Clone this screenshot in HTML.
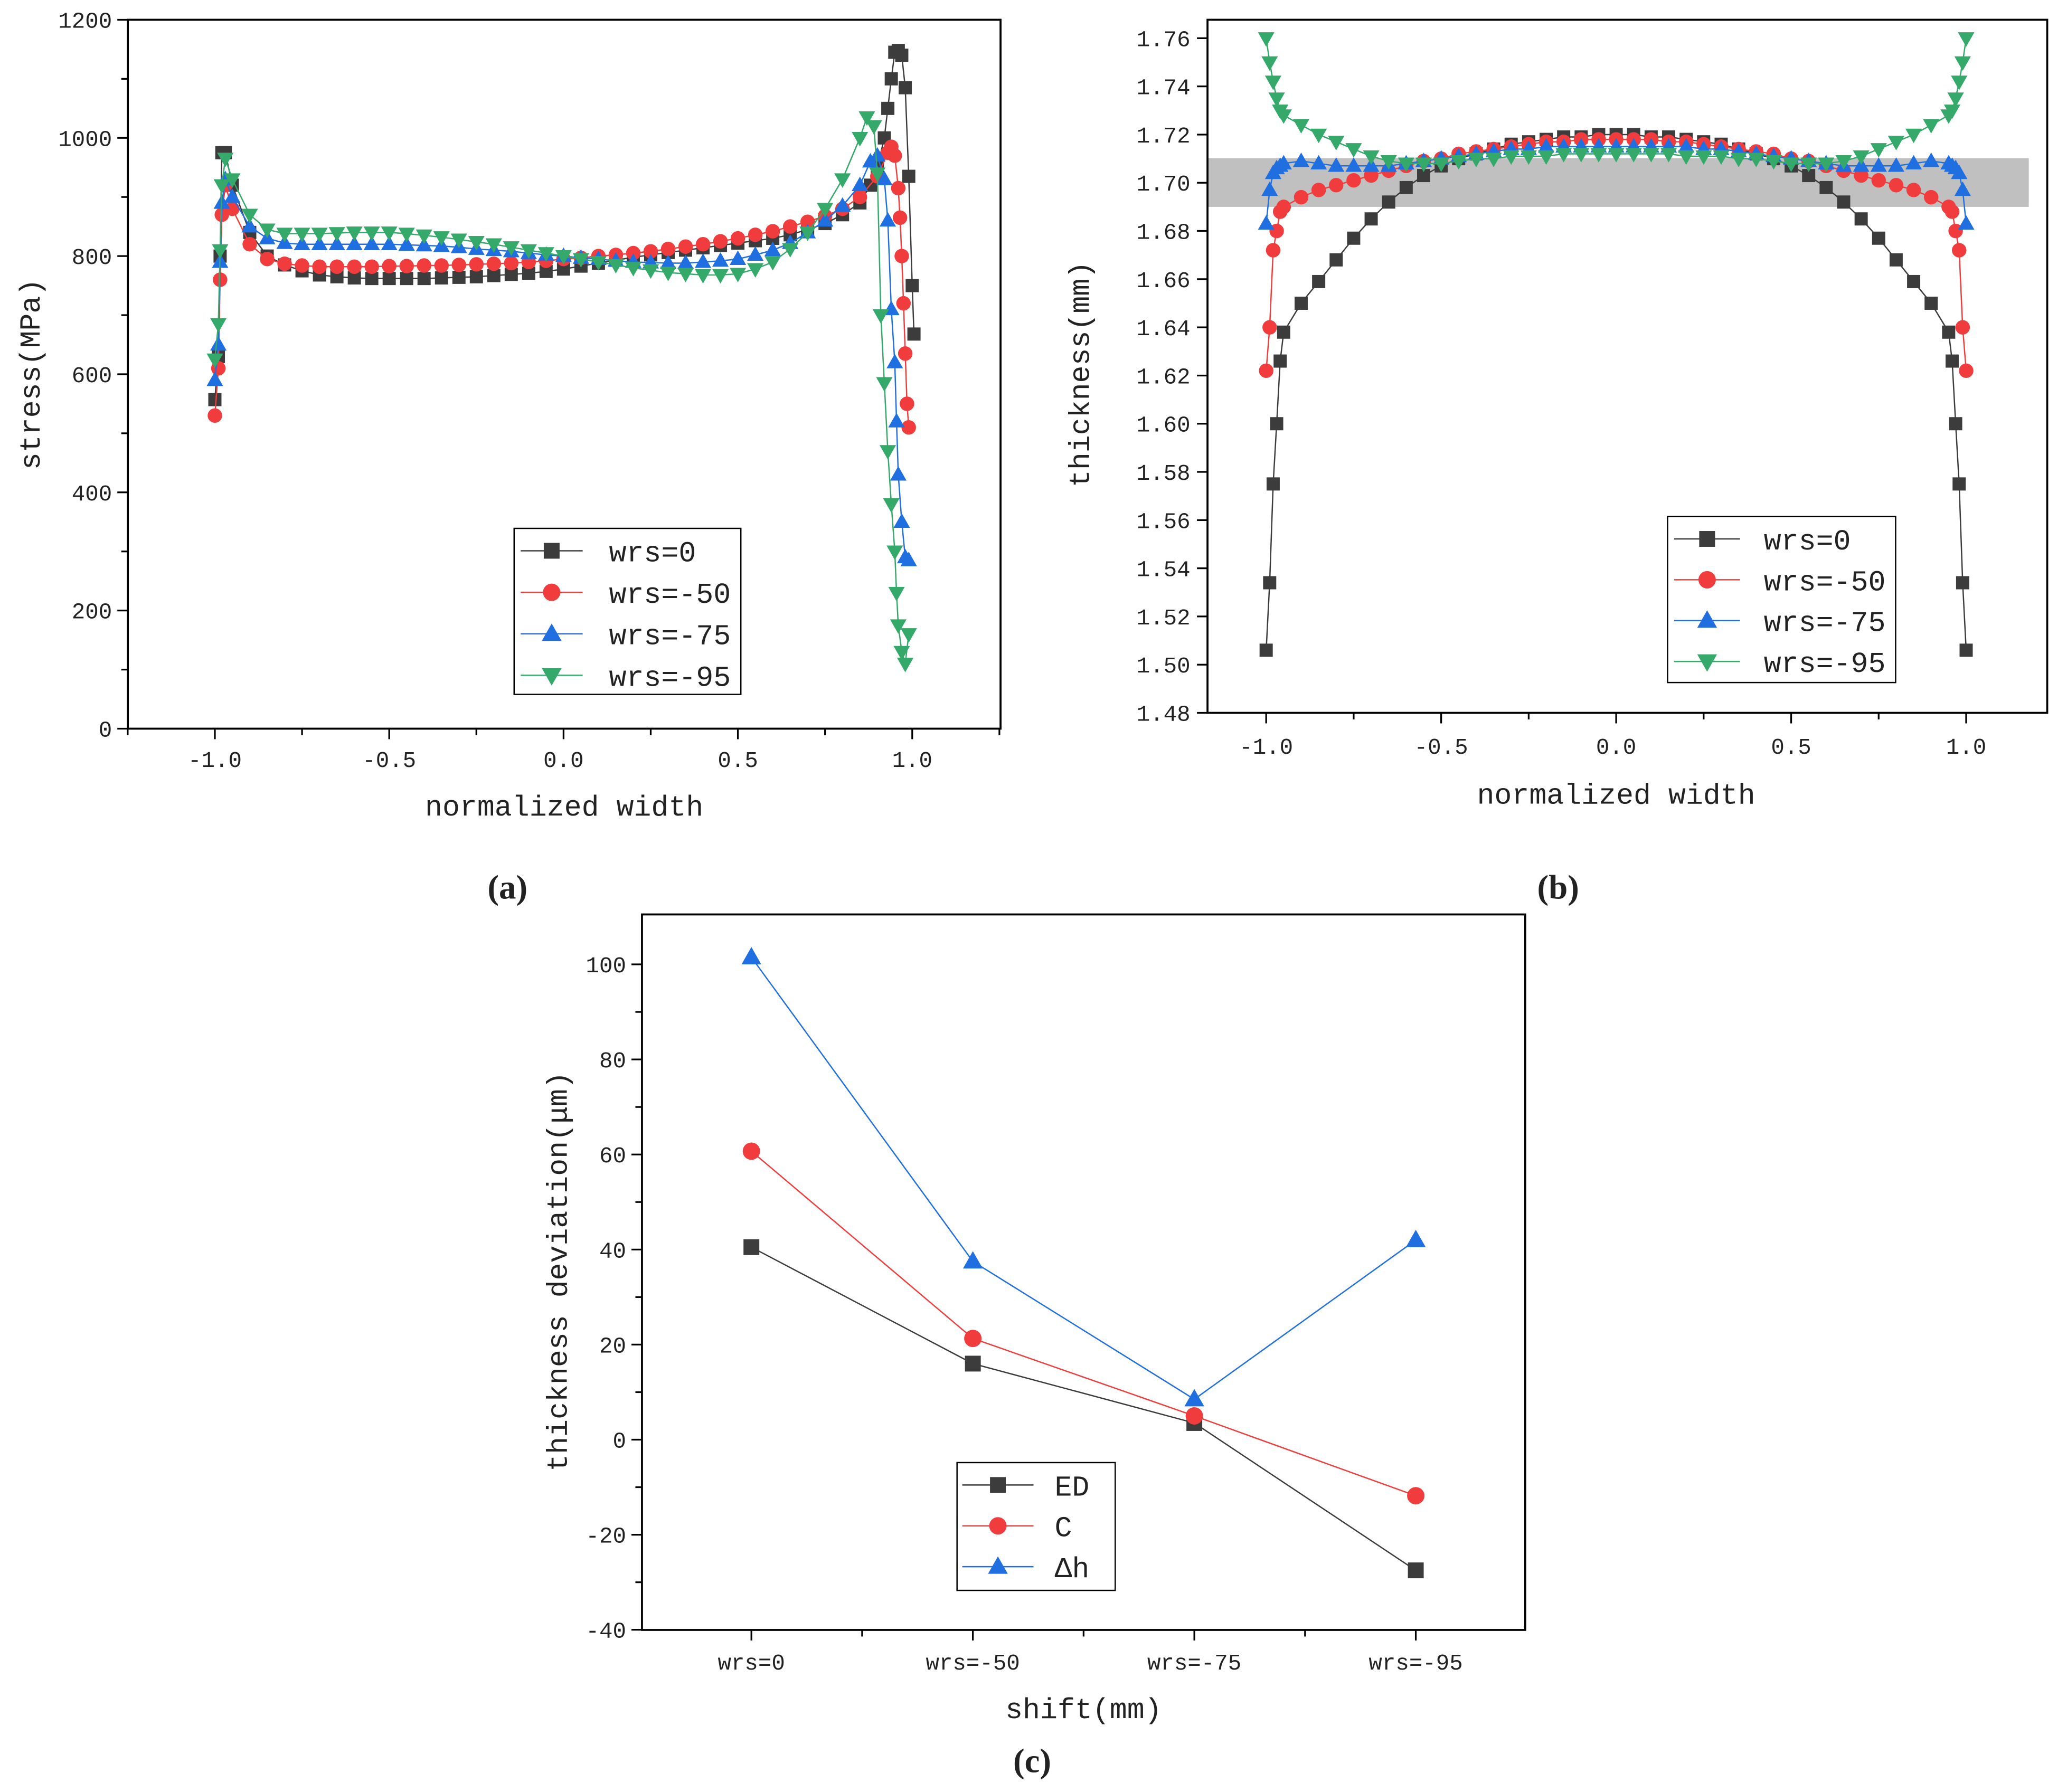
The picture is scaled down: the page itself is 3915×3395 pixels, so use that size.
<!DOCTYPE html>
<html><head><meta charset="utf-8"><style>
html,body{margin:0;padding:0;background:#fff}
svg{display:block}
text{font-family:"Liberation Mono","Noto Sans CJK SC",monospace;fill:#222}
.pl{font-family:"Liberation Serif",serif;font-weight:bold;font-size:26px}
</style></head><body>
<svg id="fig" width="3915" height="3395" viewBox="0 0 1568 1360" preserveAspectRatio="none" xmlns="http://www.w3.org/2000/svg"></svg>
<script>
// ---------- panel (a) data ----------
const aX0=[-1,-0.99,-0.985,-0.98,-0.97,-0.95,-0.9,-0.85,-0.8,-0.75,-0.7,-0.65,-0.6,-0.55,-0.5,-0.45,-0.4,-0.35,-0.3,-0.25,-0.2,-0.15,-0.1,-0.05,0,0.05,0.1,0.15,0.2,0.25,0.3,0.35,0.4,0.45,0.5,0.55,0.6,0.65,0.7,0.75,0.8,0.85,0.88,0.9,0.92,0.93,0.94,0.95,0.96,0.97,0.98,0.99,1.0,1.005];
const aY0=[557,630,800,975,975,920,840,800,785,775,768,765,763,762,762,762,762,763,764,765,767,769,771,774,778,783,788,793,798,802,806,810,814,818,822,826,830,836,845,855,870,890,920,950,1000,1050,1100,1145,1148,1140,1085,935,750,668];
const aX50=[-1,-0.99,-0.985,-0.98,-0.97,-0.95,-0.9,-0.85,-0.8,-0.75,-0.7,-0.65,-0.6,-0.55,-0.5,-0.45,-0.4,-0.35,-0.3,-0.25,-0.2,-0.15,-0.1,-0.05,0,0.05,0.1,0.15,0.2,0.25,0.3,0.35,0.4,0.45,0.5,0.55,0.6,0.65,0.7,0.75,0.8,0.85,0.9,0.93,0.94,0.95,0.96,0.965,0.97,0.975,0.98,0.985,0.99];
const aY50=[530,610,760,870,920,880,820,795,787,784,782,782,782,782,783,783,784,784,785,786,787,788,790,792,795,797,800,802,805,808,812,816,820,825,830,836,842,850,858,868,880,900,935,975,985,970,915,865,800,720,635,550,510];
const aX75=[-1,-0.99,-0.985,-0.98,-0.97,-0.95,-0.9,-0.85,-0.8,-0.75,-0.7,-0.65,-0.6,-0.55,-0.5,-0.45,-0.4,-0.35,-0.3,-0.25,-0.2,-0.15,-0.1,-0.05,0,0.05,0.1,0.15,0.2,0.25,0.3,0.35,0.4,0.45,0.5,0.55,0.6,0.65,0.7,0.75,0.8,0.85,0.88,0.9,0.92,0.93,0.94,0.95,0.955,0.96,0.97,0.98,0.99];
const aY75=[590,650,790,890,930,900,850,830,822,820,820,820,820,820,820,819,818,817,815,812,810,808,805,802,800,797,795,792,790,789,788,788,790,792,795,802,810,822,840,860,885,920,960,970,930,860,710,620,520,430,350,290,285];
const aX95=[-1,-0.99,-0.985,-0.98,-0.97,-0.95,-0.9,-0.85,-0.8,-0.75,-0.7,-0.65,-0.6,-0.55,-0.5,-0.45,-0.4,-0.35,-0.3,-0.25,-0.2,-0.15,-0.1,-0.05,0,0.05,0.1,0.15,0.2,0.25,0.3,0.35,0.4,0.45,0.5,0.55,0.6,0.65,0.7,0.75,0.8,0.85,0.87,0.89,0.9,0.91,0.92,0.93,0.94,0.95,0.955,0.96,0.97,0.98,0.99];
const aY95=[625,685,810,920,965,930,870,845,838,838,838,839,840,840,840,838,835,832,828,824,820,815,810,805,800,795,790,785,780,776,772,770,768,768,770,778,790,812,840,880,930,1000,1035,1020,940,700,585,470,380,300,230,175,130,110,160];
// ---------- panel (b) data ----------
const bX=[-1,-0.99,-0.98,-0.97,-0.96,-0.95,-0.9,-0.85,-0.8,-0.75,-0.7,-0.65,-0.6,-0.55,-0.5,-0.45,-0.4,-0.35,-0.3,-0.25,-0.2,-0.15,-0.1,-0.05,0,0.05,0.1,0.15,0.2,0.25,0.3,0.35,0.4,0.45,0.5,0.55,0.6,0.65,0.7,0.75,0.8,0.85,0.9,0.95,0.96,0.97,0.98,0.99,1];
const bY0=[1.506,1.534,1.575,1.600,1.626,1.638,1.650,1.659,1.668,1.677,1.685,1.692,1.698,1.703,1.707,1.710,1.712,1.714,1.716,1.717,1.718,1.719,1.719,1.720,1.720,1.720,1.719,1.719,1.718,1.717,1.716,1.714,1.712,1.710,1.707,1.703,1.698,1.692,1.685,1.677,1.668,1.659,1.650,1.638,1.626,1.600,1.575,1.534,1.506];
const bY50=[1.622,1.640,1.672,1.680,1.688,1.690,1.694,1.697,1.699,1.701,1.703,1.705,1.707,1.709,1.710,1.712,1.713,1.714,1.715,1.716,1.717,1.717,1.718,1.718,1.718,1.718,1.718,1.717,1.717,1.716,1.715,1.714,1.713,1.712,1.710,1.709,1.707,1.705,1.703,1.701,1.699,1.697,1.694,1.690,1.688,1.680,1.672,1.640,1.622];
const bY75=[1.683,1.697,1.704,1.706,1.707,1.708,1.709,1.708,1.707,1.707,1.707,1.707,1.708,1.709,1.710,1.711,1.712,1.713,1.714,1.714,1.715,1.715,1.715,1.715,1.715,1.715,1.715,1.715,1.715,1.714,1.714,1.713,1.712,1.711,1.710,1.709,1.708,1.707,1.707,1.707,1.707,1.708,1.709,1.708,1.707,1.706,1.704,1.697,1.683];
const bY95=[1.760,1.750,1.742,1.735,1.730,1.728,1.724,1.720,1.717,1.714,1.711,1.709,1.708,1.708,1.708,1.709,1.710,1.710,1.711,1.711,1.711,1.712,1.712,1.712,1.712,1.712,1.712,1.712,1.711,1.711,1.711,1.710,1.710,1.709,1.708,1.708,1.708,1.709,1.711,1.714,1.717,1.720,1.724,1.728,1.730,1.735,1.742,1.750,1.760];
// ---------- panel (c) data ----------
const cCats=["wrs=0","wrs=-50","wrs=-75","wrs=-95"];
const cED=[40.5,16,3.5,-27.5];
const cC=[60.7,21.3,5,-11.8];
const cDh=[101.5,37.5,8.5,42];
const aXTicks=["-1.0","-0.5","0.0","0.5","1.0"];
const aYTicks=["0","200","400","600","800","1000","1200"];
const bYTicks=["1.48","1.50","1.52","1.54","1.56","1.58","1.60","1.62","1.64","1.66","1.68","1.70","1.72","1.74","1.76"];
const cYTicks=["-40","-20","0","20","40","60","80","100"];

const NS="http://www.w3.org/2000/svg";
const svg=document.getElementById('fig');
function mk(tag,attrs,parent){const e=document.createElementNS(NS,tag);for(const k in attrs)e.setAttribute(k,attrs[k]);(parent||svg).appendChild(e);return e;}
const COL={g:'#3c3c3c',r:'#f03c3c',b:'#1f6fe0',gr:'#35a96a'};
function marker(shape,x,y,c,s,p){
  let e;
  if(shape==='sq')e=mk('rect',{x:x-s,y:y-s,width:2*s,height:2*s,fill:c},p);
  else if(shape==='ci')e=mk('circle',{cx:x,cy:y,r:s*1.1,fill:c},p);
  else if(shape==='up')e=mk('polygon',{points:`${x},${y-s*1.3} ${x-s*1.25},${y+s*0.9} ${x+s*1.25},${y+s*0.9}`,fill:c},p);
  else e=mk('polygon',{points:`${x},${y+s*1.3} ${x-s*1.25},${y-s*0.9} ${x+s*1.25},${y-s*0.9}`,fill:c},p);
  
  
  return e;
}
function series(name,xs,ys,fx,fy,c,shape,s){
  const g=mk('g',{});
  
  
  const pts=xs.map((v,i)=>fx(v)+','+fy(ys[i])).join(' ');
  mk('polyline',{points:pts,fill:'none',stroke:c,'stroke-width':1},g);
  xs.forEach((v,i)=>marker(shape,fx(v),fy(ys[i]),c,s,g));
}
function legend(name,x,y,w,h,entries,lx1,lx2,tx,step){
  const g=mk('g',{});
  
  
  mk('rect',{x:x,y:y,width:w,height:h,fill:'#fff',stroke:'#000','stroke-width':1},g);
  entries.forEach((en,i)=>{
    const yy=y+17+i*step;
    const eg=mk('g',{},g);
    
    
    mk('line',{x1:lx1,x2:lx2,y1:yy,y2:yy,stroke:en[1],'stroke-width':1},eg);
    marker(en[2],(lx1+lx2)/2,yy,en[1],6,eg);
    const t=mk('text',{x:tx,y:yy+8,'font-size':22},eg);t.textContent=en[0];
  });
}
function txt(name,s,x,y,size,anchor,extra){
  const t=mk('text',Object.assign({x:x,y:y,'font-size':size,'text-anchor':anchor||'middle'},extra||{}));
  t.textContent=s;
  
  
  return t;
}
function line(x1,y1,x2,y2){mk('line',{x1,y1,x2,y2,stroke:'#000','stroke-width':1.3});}

// ===== Panel A =====
const ax=v=>427.5+v*264.5, ay=v=>553-v*0.44833;
mk('rect',{x:97,y:15,width:662,height:538,fill:'none',stroke:'#000','stroke-width':1.5});
aXTicks.forEach(t=>{const v=parseFloat(t);line(ax(v),553,ax(v),561);txt('x-tick-label',t,ax(v),582,17);});
[-1.25,-0.75,-0.25,0.25,0.75,1.25].forEach(v=>line(ax(v),553,ax(v),558));
aYTicks.forEach(t=>{const v=+t;line(89,ay(v),97,ay(v));txt('y-tick-label',t,85,ay(v)+6,17,'end');});
[100,300,500,700,900,1100].forEach(v=>line(92,ay(v),97,ay(v)));
txt('x-axis-title','normalized width',428,619,22);
txt('y-axis-title','stress(MPa)',30,284,22,'middle',{transform:'rotate(-90 30 284)'});
series('series-wrs-0',aX0,aY0,ax,ay,COL.g,'sq',5);
series('series-wrs-50',aX50,aY50,ax,ay,COL.r,'ci',5);
series('series-wrs-75',aX75,aY75,ax,ay,COL.b,'up',5);
series('series-wrs-95',aX95,aY95,ax,ay,COL.gr,'dn',5);
legend('legend-a',390,401,172,126,[['wrs=0',COL.g,'sq'],['wrs=-50',COL.r,'ci'],['wrs=-75',COL.b,'up'],['wrs=-95',COL.gr,'dn']],395,442,462,31.5);
txt('panel-label-a','(a)',385,682,26,'middle',{class:'pl'});

// ===== Panel B =====
const bx=v=>1226+v*265.5, by=v=>541-(v-1.48)*1828.6;
mk('rect',{x:916,y:120,width:623,height:37,fill:'#c0c0c0'});
mk('rect',{x:916,y:15,width:637,height:526,fill:'none',stroke:'#000','stroke-width':1.5});
aXTicks.forEach(t=>{const v=parseFloat(t);line(bx(v),541,bx(v),549);txt('x-tick-label',t,bx(v),572,17);});
[-0.75,-0.25,0.25,0.75].forEach(v=>line(bx(v),541,bx(v),546));
bYTicks.forEach(t=>{const v=+t;line(908,by(v),916,by(v));txt('y-tick-label',t,903,by(v)+6,17,'end');});
txt('x-axis-title','normalized width',1226,610,22);
txt('y-axis-title','thickness(mm)',826,284,22,'middle',{transform:'rotate(-90 826 284)'});
series('series-wrs-0',bX,bY0,bx,by,COL.g,'sq',5);
series('series-wrs-50',bX,bY50,bx,by,COL.r,'ci',5);
series('series-wrs-75',bX,bY75,bx,by,COL.b,'up',5);
series('series-wrs-95',bX,bY95,bx,by,COL.gr,'dn',5);
legend('legend-b',1265,392,173,126,[['wrs=0',COL.g,'sq'],['wrs=-50',COL.r,'ci'],['wrs=-75',COL.b,'up'],['wrs=-95',COL.gr,'dn']],1270,1320,1338,31);
txt('panel-label-b','(b)',1182,682,26,'middle',{class:'pl'});

// ===== Panel C =====
const cx=i=>570+i*168, cy=v=>1092.6-v*3.607;
mk('rect',{x:487,y:694,width:670,height:543,fill:'none',stroke:'#000','stroke-width':1.5});
cCats.forEach((t,i)=>{line(cx(i),1237,cx(i),1245);txt('x-tick-label',t,cx(i),1267,17);});
[0.5,1.5,2.5].forEach(i=>line(cx(i),1237,cx(i),1242));
cYTicks.forEach(t=>{const v=+t;line(479,cy(v),487,cy(v));txt('y-tick-label',t,475,cy(v)+6,17,'end');});
[-30,-10,10,30,50,70,90].forEach(v=>line(482,cy(v),487,cy(v)));
txt('x-axis-title','shift(mm)',822,1304,22);
txt('y-axis-title','thickness deviation(μm)',430,965,22,'middle',{transform:'rotate(-90 430 965)'});
const idx=[0,1,2,3];
series('series-ED',idx,cED,cx,cy,COL.g,'sq',6);
series('series-C',idx,cC,cx,cy,COL.r,'ci',6);
series('series-dh',idx,cDh,cx,cy,COL.b,'up',6);
legend('legend-c',726,1110,120,97,[['ED',COL.g,'sq'],['C',COL.r,'ci'],['Δh',COL.b,'up']],730,784,800,31);
txt('panel-label-c','(c)',783,1345,26,'middle',{class:'pl'});
</script>
</body></html>
